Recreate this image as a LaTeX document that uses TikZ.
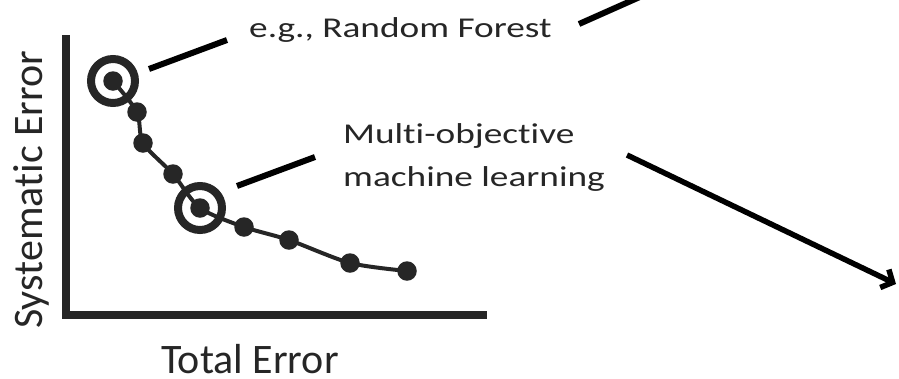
\documentclass[tikz,border=0pt]{standalone}
\usepackage{fontspec}
\setmainfont[Ligatures=NoCommon]{Carlito}
\newfontfamily\annfont[FakeStretch=1.3, Ligatures=NoCommon]{Carlito}
\usetikzlibrary{arrows.meta}
\definecolor{ink}{HTML}{262626}
\tikzset{
  axisline/.style={line width=7.5pt, draw=ink},
  frontline/.style={line width=4pt, draw=ink},
  dot/.style={circle, fill=ink, inner sep=0pt, minimum size=19.5pt},
  ring/.style={circle, draw=ink, line width=8pt, inner sep=0pt, minimum size=44pt},
  pointer/.style={line width=6pt, draw=black},
  axislabel/.style={text=ink, font=\fontsize{42}{50}\selectfont, inner sep=0pt},
  annlabel/.style={text=ink, font=\annfont\fontsize{28.7}{43}\selectfont, inner sep=0pt, align=left},
}
\begin{document}
\begin{tikzpicture}[x=1pt, y=-1pt]
\useasboundingbox (0,0) rectangle (899,378);
\clip (0,0) rectangle (899,378);

% axes
\coordinate (ytop) at (66,35);
\coordinate (origin) at (66,315);
\coordinate (xend) at (487,315);
\draw[axisline] (ytop) -- (66,318);
\draw[axisline] (62,315) -- (xend);

% Pareto front points
\coordinate (p1) at (113,81);
\coordinate (p2) at (137,112);
\coordinate (p3) at (143,143);
\coordinate (p4) at (173,174);
\coordinate (p5) at (200,208);
\coordinate (p6) at (244,227);
\coordinate (p7) at (289,240);
\coordinate (p8) at (350,263);
\coordinate (p9) at (407,271);

\draw[frontline] plot[smooth, tension=0.45] coordinates {(p1) (p2) (p3) (p4) (p5) (p6) (p7) (p8) (p9)};

\foreach \p in {p1,p2,p3,p4,p5,p6,p7,p8,p9}
  \node[dot] (d\p) at (\p) {};

\node[ring] (rf) at (p1) {};
\node[ring] (mo) at (p5) {};

% labels
\node[axislabel, anchor=base west, text depth=0pt] (xlab) at (161,373) {Total Error};
\node[axislabel, anchor=base west, rotate=90] (ylab) at (42,329) {Systematic Error};
\node[annlabel, anchor=base west] (rflab) at (249,37) {e.g., Random Forest};
\node[annlabel, anchor=base west] (molab1) at (343,143) {Multi-objective};
\node[annlabel, anchor=base west] (molab2) at (343,186) {machine learning};

% pointers from the highlighted models to their labels
\coordinate (a1) at (149,69);
\coordinate (b1) at (227,40);
\coordinate (a2) at (237,186);
\coordinate (b2) at (315,157);
\draw[pointer] (a1) -- (b1);
\draw[pointer] (a2) -- (b2);

% leads off to the right
\coordinate (c1) at (579,24);
\coordinate (c2) at (660,-12);
\draw[pointer] (c1) -- (c2);
\coordinate (e1) at (627,155);
\coordinate (e2) at (896,284);
\draw[pointer, line width=5.5pt, -{Straight Barb[length=9pt, width=20pt]}] (e1) -- (e2);
\end{tikzpicture}
\end{document}
